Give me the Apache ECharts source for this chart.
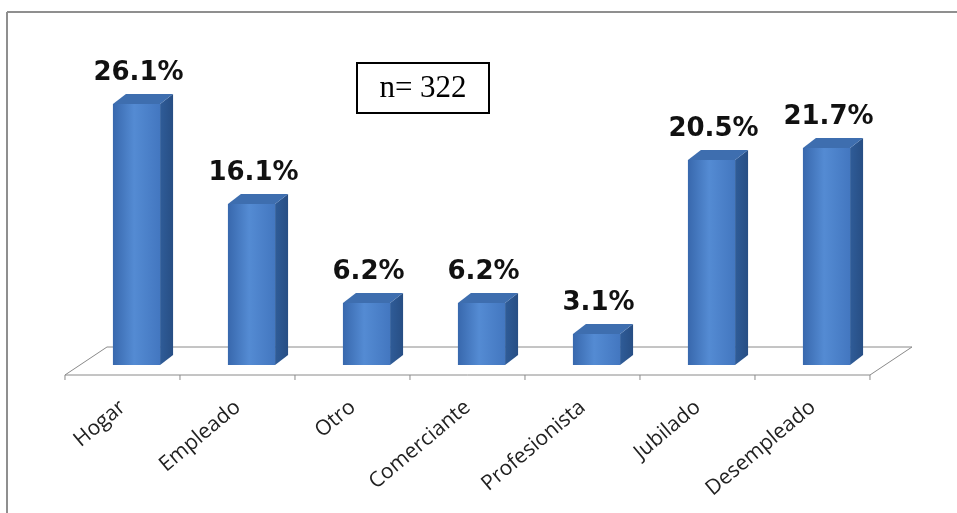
<!DOCTYPE html>
<html>
<head>
<meta charset="utf-8">
<script src="https://cdn.jsdelivr.net/npm/echarts@6/dist/echarts.min.js"></script>
<style>
html,body{margin:0;padding:0;background:#fff;}
#c{width:957px;height:513px;}
</style>
</head>
<body>
<div id="c"></div>
<script>
const categories = ['Hogar', 'Empleado', 'Otro', 'Comerciante', 'Profesionista', 'Jubilado', 'Desempleado'];
const values = [26.1, 16.1, 6.2, 6.2, 3.1, 20.5, 21.7];
const valueLabels = ['26.1%', '16.1%', '6.2%', '6.2%', '3.1%', '20.5%', '21.7%'];
const sampleNote = 'n= 322';

const chart = echarts.init(document.getElementById('c'));

const frontGrad = new echarts.graphic.LinearGradient(0, 0, 1, 0, [
  {offset: 0, color: '#3868ad'},
  {offset: 0.45, color: '#548bd3'},
  {offset: 1, color: '#4377c0'}
]);
const sideGrad = new echarts.graphic.LinearGradient(0, 0, 1, 0, [
  {offset: 0, color: '#2f5c98'},
  {offset: 1, color: '#274e84'}
]);
const topColor = '#3e6eaf';

function renderFloor(params, api) {
  const p = api.coord([0, 0]);
  const bw = api.size([1, 0])[0];
  const n = categories.length;
  const fx = p[0] - bw / 2 - bw * 0.122;
  const fy = p[1] + 10;
  const ex = fx + bw * n;
  const ddx = 42, ddy = -28;
  const children = [
    {type: 'polygon', shape: {points: [[fx, fy], [fx + ddx, fy + ddy], [ex + ddx, fy + ddy], [ex, fy]]},
     style: {fill: '#fff', stroke: '#8a8a8a', lineWidth: 1}}
  ];
  for (let i = 0; i <= n; i++) {
    const x = fx + bw * i;
    children.push({type: 'line', shape: {x1: x, y1: fy, x2: x, y2: fy + 5}, style: {stroke: '#8a8a8a', lineWidth: 1}});
  }
  return {type: 'group', children};
}

function renderBar(params, api) {
  const i = api.value(0);
  const v = api.value(1);
  const top = api.coord([i, v]);
  const base = api.coord([i, 0]);
  const bw = api.size([1, 0])[0];
  const w = bw * 0.41;
  const dx = 13, dy = -10;
  const x0 = top[0] - w / 2, x1 = x0 + w;
  return {
    type: 'group',
    children: [
      {type: 'polygon', shape: {points: [[x1, top[1]], [x1 + dx, top[1] + dy], [x1 + dx, base[1] + dy], [x1, base[1]]]},
       style: {fill: sideGrad}},
      {type: 'polygon', shape: {points: [[x0, top[1]], [x0 + dx, top[1] + dy], [x1 + dx, top[1] + dy], [x1, top[1]]]},
       style: {fill: topColor}},
      {type: 'rect', shape: {x: x0, y: top[1], width: w, height: base[1] - top[1]},
       style: {fill: frontGrad}},
      {type: 'text', x: top[0] + 2, y: top[1] - 18,
       style: {text: valueLabels[params.dataIndex], fill: '#111', font: 'bold 26px "DejaVu Sans"', align: 'center', verticalAlign: 'bottom'}}
    ]
  };
}

chart.setOption({
  backgroundColor: '#fff',
  animation: false,
  grid: {left: 79, right: 73, top: 65, bottom: 148},
  xAxis: {
    type: 'category',
    data: categories,
    axisLine: {show: false},
    axisTick: {show: false},
    axisLabel: {rotate: 40, margin: 28, padding: [0, 18, 0, 0], fontSize: 21, fontFamily: 'Open Sans', color: '#222', interval: 0}
  },
  yAxis: {type: 'value', min: 0, max: 30, show: false, splitLine: {show: false}},
  graphic: [
    {type: 'line', shape: {x1: 7, y1: 12, x2: 957, y2: 12}, style: {stroke: '#8f8f8f', lineWidth: 2}},
    {type: 'line', shape: {x1: 7, y1: 12, x2: 7, y2: 513}, style: {stroke: '#8f8f8f', lineWidth: 2}},
    {type: 'group', left: 356, top: 62, children: [
      {type: 'rect', shape: {x: 0, y: 0, width: 132, height: 50}, style: {fill: '#fff', stroke: '#000', lineWidth: 2}},
      {type: 'text', x: 66, y: 26, style: {text: sampleNote, font: '31px "Liberation Serif"', fill: '#000', align: 'center', verticalAlign: 'middle'}}
    ]}
  ],
  series: [
    {type: 'custom', data: [[0, 0]], renderItem: renderFloor, z: 1, silent: true},
    {type: 'custom', data: values.map((v, i) => [i, v]), encode: {x: 0, y: 1}, renderItem: renderBar, z: 2}
  ]
});
</script>
</body>
</html>
